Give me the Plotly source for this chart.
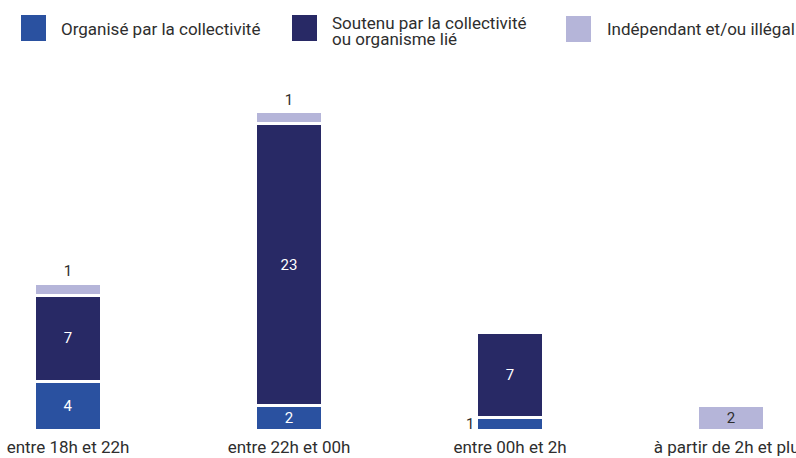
import plotly.graph_objects as go

categories = ["entre 18h et 22h", "entre 22h et 00h", "entre 00h et 2h", "à partir de 2h et plus"]
series_names = ["Organisé par la collectivité", "Soutenu par la collectivité<br>ou organisme lié", "Indépendant et/ou illégal"]
organise = [4, 2, 1, None]
soutenu = [7, 23, 7, None]
independant = [1, 1, None, 2]

colors = ["#2a51a0", "#282965", "#b5b5d9"]
FONT = "Roboto, DejaVu Sans Condensed, sans-serif"
TXT = "#2e2e2e"

W, H = 796, 458
ML, MR, MT, MB = 0, 0, 60, 28
PW, PH = W - ML - MR, H - MT - MB

fig = go.Figure()
fig.add_bar(x=categories, y=organise, name=series_names[0], marker_color=colors[0],
            text=[v if (v is not None and v > 1) else "" for v in organise],
            textposition="inside", insidetextanchor="middle",
            insidetextfont=dict(color="white", size=15, family=FONT))
fig.add_bar(x=categories, y=soutenu, name=series_names[1], marker_color=colors[1],
            text=soutenu, textposition="inside", insidetextanchor="middle",
            insidetextfont=dict(color="white", size=15, family=FONT))
fig.add_bar(x=categories, y=independant, name=series_names[2], marker_color=colors[2],
            text=independant,
            textposition=["outside" if (v is not None and v < 2) else "inside" for v in independant],
            insidetextanchor="middle",
            insidetextfont=dict(color=TXT, size=15, family=FONT),
            outsidetextfont=dict(color=TXT, size=15, family=FONT))
fig.update_traces(marker_line_color="white", marker_line_width=3, width=0.303,
                  constraintext="none", textangle=0, cliponaxis=False, showlegend=False)

# small blue value shown to the left of the bar
for c, v in zip(categories, organise):
    if v == 1:
        fig.add_annotation(x=c, y=v / 2, xref="x", yref="y", text=str(v), showarrow=False,
                           xanchor="right", xshift=-34, font=dict(size=15, color=TXT, family=FONT))

# legend drawn with squares + text
def px_x(p):
    return (p - ML) / PW

def px_y(p):
    return (H - MB - p) / PH

legend_sq = [(21, 15), (292, 15), (566, 16)]
for (sx, sy), col in zip(legend_sq, colors):
    fig.add_shape(type="rect", xref="paper", yref="paper",
                  x0=px_x(sx), x1=px_x(sx + 25), y0=px_y(sy + 26), y1=px_y(sy),
                  fillcolor=col, line_width=0)

LF = dict(size=17, color=TXT, family=FONT)
fig.add_annotation(xref="paper", yref="paper", x=px_x(59), y=px_y(29), text=series_names[0],
                   showarrow=False, xanchor="left", yanchor="middle", font=LF)
line1, line2 = series_names[1].split("<br>")
fig.add_annotation(xref="paper", yref="paper", x=px_x(330), y=px_y(23), text=line1,
                   showarrow=False, xanchor="left", yanchor="middle", font=LF)
fig.add_annotation(xref="paper", yref="paper", x=px_x(330), y=px_y(39), text=line2,
                   showarrow=False, xanchor="left", yanchor="middle", font=LF)
fig.add_annotation(xref="paper", yref="paper", x=px_x(605), y=px_y(29), text=series_names[2],
                   showarrow=False, xanchor="left", yanchor="middle", font=LF)

fig.update_layout(
    width=W, height=H, barmode="stack",
    margin=dict(l=ML, r=MR, t=MT, b=MB, autoexpand=False),
    paper_bgcolor="white", plot_bgcolor="white",
    font=dict(family=FONT, color=TXT),
    xaxis=dict(type="category", range=[-0.3077, 3.294], showgrid=False, showline=False,
               ticks="", ticklabelstandoff=5,
               tickfont=dict(size=17, color=TXT, family=FONT), automargin=False),
    yaxis=dict(range=[0, PH / 12.25], visible=False, showgrid=False, zeroline=False),
)

fig.write_html("out.html", config={"displayModeBar": False},
               post_script="document.body.style.margin='0';document.body.style.overflow='hidden';")
